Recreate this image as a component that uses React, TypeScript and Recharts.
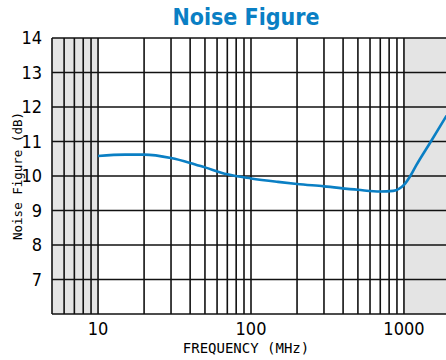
import { LineChart, Line, XAxis, YAxis, ReferenceArea, ReferenceLine } from "recharts";

const freqMHz = [10, 15, 20, 30, 40, 50, 70, 100, 150, 200, 300, 500, 700, 850, 1000, 1100, 1200, 1500, 1900];
const noiseFigureDb = [10.58, 10.62, 10.62, 10.52, 10.38, 10.25, 10.05, 9.93, 9.83, 9.77, 9.7, 9.6, 9.55, 9.57, 9.74, 10.0, 10.3, 11.0, 11.75];
const xTicks = [10, 100, 1000];
const yTicks = [7, 8, 9, 10, 11, 12, 13, 14];
const gridX = [6, 7, 8, 9, 10, 20, 30, 40, 50, 60, 70, 80, 90, 100, 200, 300, 400, 500, 600, 700, 800, 900, 1000];
const gridY = [7, 8, 9, 10, 11, 12, 13, 14];

const data = freqMHz.map((f, i) => ({ f, nf: noiseFigureDb[i] }));

const tickFont = "'Liberation Sans Narrow', 'Arial Narrow', 'DejaVu Sans Condensed', sans-serif";
const labelFont = "'DejaVu Sans Mono', monospace";
const gridStroke = "#111";

const App = () => {
  return (
    <div style={{ position: "absolute", left: 0, top: 0, width: 446, height: 360, overflow: "hidden", background: "#fff" }}>
      <div
        style={{
          position: "absolute",
          top: 4,
          left: 0,
          width: 492,
          textAlign: "center",
          fontFamily: tickFont,
          fontWeight: "bold",
          fontSize: 23,
          color: "#0a7fc4",
        }}
      >
        Noise Figure
      </div>
      <LineChart width={450} height={360} data={data} margin={{ top: 38, right: 0, bottom: 16, left: 0 }}>
        <ReferenceArea x1={5} x2={10} y1={6} y2={14} fill="#e4e4e4" fillOpacity={1} stroke="none" />
        <ReferenceArea x1={1000} x2={2000} y1={6} y2={14} fill="#e4e4e4" fillOpacity={1} stroke="none" />
        {gridX.map((v) => (
          <ReferenceLine key={"x" + v} x={v} stroke={gridStroke} strokeWidth={1.6} />
        ))}
        {gridY.map((v) => (
          <ReferenceLine key={"y" + v} y={v} stroke={gridStroke} strokeWidth={1.6} />
        ))}
        <ReferenceLine x={5} stroke={gridStroke} strokeWidth={1.6} />
        <XAxis
          dataKey="f"
          type="number"
          scale="log"
          domain={[5, 2000]}
          ticks={xTicks}
          allowDataOverflow
          height={30}
          tickLine={false}
          axisLine={{ stroke: gridStroke, strokeWidth: 1.6 }}
          tick={{ fill: "#000", fontSize: 18, fontFamily: tickFont }}
          tickMargin={2}
        />
        <YAxis
          type="number"
          domain={[6, 14]}
          ticks={yTicks}
          width={52}
          tickLine={false}
          axisLine={false}
          tick={{ fill: "#000", fontSize: 18, fontFamily: tickFont }}
          tickMargin={4}
        />
        <Line
          type="monotone"
          dataKey="nf"
          stroke="#0a7fc4"
          strokeWidth={2.6}
          dot={false}
          isAnimationActive={false}
        />
      </LineChart>
      <div
        style={{
          position: "absolute",
          top: 340,
          left: 146,
          width: 200,
          textAlign: "center",
          fontFamily: labelFont,
          fontSize: 14,
          color: "#000",
          lineHeight: "16px",
        }}
      >
        FREQUENCY (MHz)
      </div>
      <div
        style={{
          position: "absolute",
          top: 168,
          left: -82,
          width: 200,
          textAlign: "center",
          fontFamily: labelFont,
          fontSize: 12.5,
          color: "#000",
          lineHeight: "16px",
          transform: "rotate(-90deg)",
        }}
      >
        Noise Figure (dB)
      </div>
    </div>
  );
};

export default App;
